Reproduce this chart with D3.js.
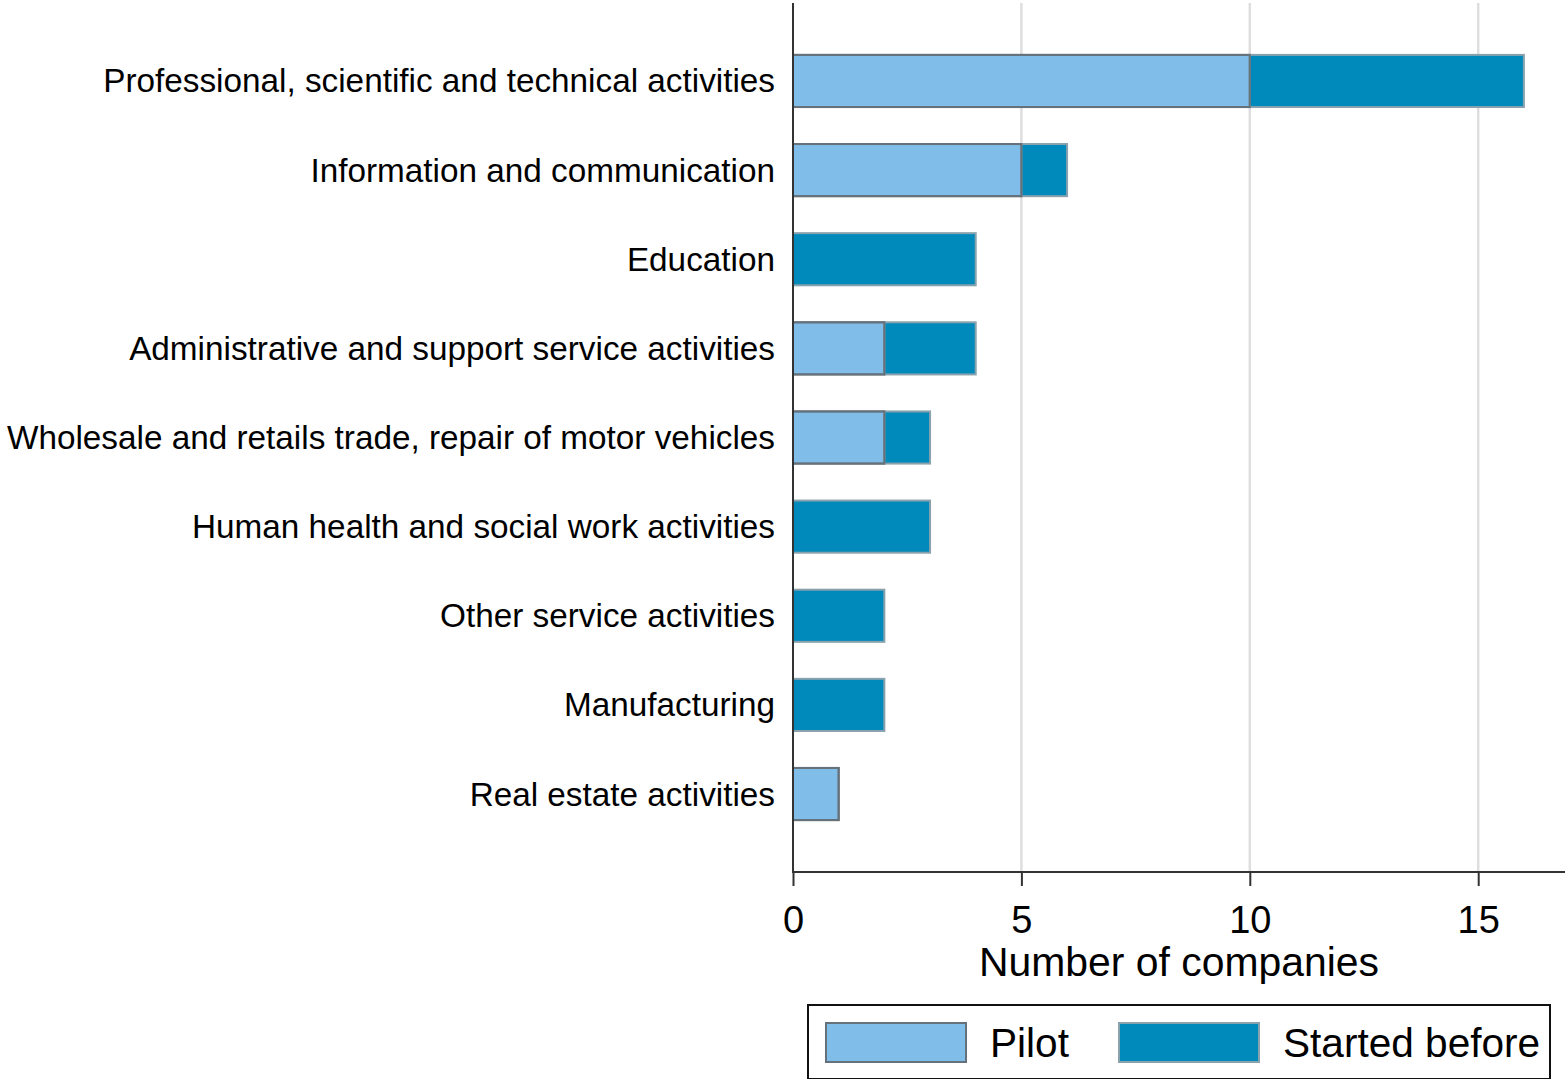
<!DOCTYPE html>
<html>
<head>
<meta charset="utf-8">
<script src="https://cdn.jsdelivr.net/npm/d3@7"></script>
<style>
  html, body { margin: 0; padding: 0; background: #fff; }
  svg { display: block; font-family: "Liberation Sans", Arial, sans-serif; }
</style>
</head>
<body>
<svg id="chart" width="1567" height="1079"></svg>
<script>
// Industries, top to bottom
const categories = [
  "Professional, scientific and technical activities",
  "Information and communication",
  "Education",
  "Administrative and support service activities",
  "Wholesale and retails trade, repair of motor vehicles",
  "Human health and social work activities",
  "Other service activities",
  "Manufacturing",
  "Real estate activities"
];
// Companies per industry, by when the four-day week began
const pilot         = [10, 5, 0, 2, 2, 0, 0, 0, 1];
const startedBefore = [ 6, 1, 4, 2, 1, 3, 2, 2, 0];
const seriesNames = ["Pilot", "Started before"];
const xTicks = [0, 5, 10, 15];
const xTitle = "Number of companies";

const colors = { "Pilot": "#80bde8", "Started before": "#0089bb" };
const outlines = { "Pilot": "#66727b", "Started before": "#8aa2ad" };

const svg = d3.select("#chart");

const plot = { left: 793, right: 1565, top: 3, bottom: 872 };

const x = d3.scaleLinear().domain([0, 16.9]).range([plot.left, plot.right]);
const y = d3.scaleBand().domain(categories)
  .range([36.4, 838.6]).paddingInner(0.415).paddingOuter(0.2075);

// vertical gridlines
svg.append("g").selectAll("line")
  .data(xTicks.filter(t => t > 0))
  .join("line")
  .attr("x1", d => x(d)).attr("x2", d => x(d))
  .attr("y1", plot.top).attr("y2", plot.bottom)
  .attr("stroke", "#dedede").attr("stroke-width", 2.5);

// stacked bars
const rows = categories.map((c, i) => ({ cat: c, "Pilot": pilot[i], "Started before": startedBefore[i] }));
const stacked = d3.stack().keys(seriesNames)(rows);

const gBars = svg.append("g");
stacked.forEach(layer => {
  gBars.append("g").selectAll("rect")
    .data(layer.filter(d => d[1] - d[0] > 0))
    .join("rect")
    .attr("x", d => x(d[0]))
    .attr("y", d => y(d.data.cat))
    .attr("width", d => x(d[1]) - x(d[0]))
    .attr("height", y.bandwidth())
    .attr("fill", colors[layer.key])
    .attr("stroke", outlines[layer.key])
    .attr("stroke-width", 2);
});
// redraw pilot outlines on top so the shared edge stays dark
gBars.append("g").selectAll("rect")
  .data(stacked[0].filter(d => d[1] - d[0] > 0))
  .join("rect")
  .attr("x", d => x(d[0]))
  .attr("y", d => y(d.data.cat))
  .attr("width", d => x(d[1]) - x(d[0]))
  .attr("height", y.bandwidth())
  .attr("fill", "none")
  .attr("stroke", outlines["Pilot"])
  .attr("stroke-width", 2);

// y axis line
svg.append("line")
  .attr("x1", plot.left).attr("x2", plot.left)
  .attr("y1", plot.top).attr("y2", plot.bottom + 1)
  .attr("stroke", "#333").attr("stroke-width", 2);

// category labels
svg.append("g").selectAll("text")
  .data(categories)
  .join("text")
  .attr("x", plot.left - 18)
  .attr("y", d => y(d) + y.bandwidth() / 2)
  .attr("text-anchor", "end")
  .attr("dominant-baseline", "central")
  .attr("font-size", 33.3)
  .attr("fill", "#000")
  .text(d => d);

// x axis
const xAxis = d3.axisBottom(x).tickValues(xTicks).tickSize(14).tickPadding(20).tickFormat(d3.format("d"));
const gx = svg.append("g")
  .attr("transform", `translate(0,${plot.bottom})`)
  .call(xAxis);
gx.select(".domain").attr("stroke", "#333").attr("stroke-width", 2)
  .attr("d", `M${plot.left},0H${plot.right}`);
gx.selectAll(".tick line").attr("stroke", "#333").attr("stroke-width", 2);
gx.selectAll(".tick text").attr("font-size", 38).attr("fill", "#000")
  .attr("font-family", "'Liberation Sans', Arial, sans-serif");

svg.append("text")
  .attr("x", (plot.left + plot.right) / 2)
  .attr("y", 976)
  .attr("text-anchor", "middle")
  .attr("font-size", 40.9)
  .attr("fill", "#000")
  .text(xTitle);

// legend
const legend = svg.append("g");
legend.append("rect")
  .attr("x", 808).attr("y", 1005).attr("width", 742).attr("height", 74)
  .attr("fill", "#fff").attr("stroke", "#111").attr("stroke-width", 2);
const legendPos = [{ sx: 826, tx: 990 }, { sx: 1119, tx: 1283 }];
seriesNames.forEach((s, i) => {
  legend.append("rect")
    .attr("x", legendPos[i].sx).attr("y", 1023).attr("width", 140).attr("height", 39)
    .attr("fill", colors[s]).attr("stroke", outlines[s]).attr("stroke-width", 2);
  legend.append("text")
    .attr("x", legendPos[i].tx).attr("y", 1043)
    .attr("dominant-baseline", "central")
    .attr("font-size", 40.6).attr("fill", "#000")
    .text(s);
});
</script>
</body>
</html>
